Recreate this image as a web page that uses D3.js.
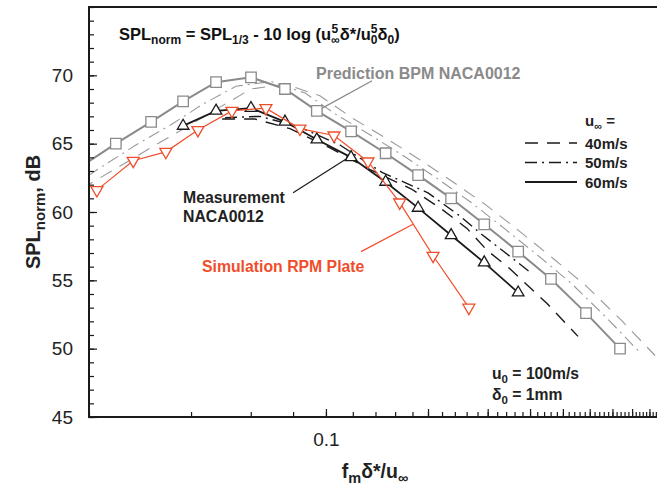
<!DOCTYPE html>
<html>
<head>
<meta charset="utf-8">
<script src="https://cdn.jsdelivr.net/npm/d3@7"></script>
<style>
  body { margin: 0; background: #fff; }
  text { font-family: "Liberation Sans", Arial, sans-serif; }
</style>
</head>
<body>
<svg width="657" height="490"></svg>
<script>
// Data (x = f_m d*/u, y = SPL_norm in dB)
var predX   = [0.019, 0.0240, 0.0305, 0.0379, 0.0474, 0.0601, 0.0757, 0.094, 0.1186, 0.150, 0.187, 0.234, 0.293, 0.369, 0.461, 0.585, 0.737];
var pred60  = [63.35, 65.0, 66.6, 68.1, 69.5, 69.85, 69.0, 67.4, 65.9, 64.3, 62.7, 61.0, 59.1, 57.1, 55.1, 52.6, 50.0];
var pred50X = [0.0173, 0.0218, 0.0275, 0.0350, 0.0434, 0.0543, 0.0689, 0.0868, 0.1077, 0.1359, 0.1719, 0.2143, 0.2682, 0.3358, 0.4229, 0.5283, 0.6704, 0.8446];
var pred50  = [61.7, 63.3, 64.9, 66.4, 67.9, 69.2, 69.55, 68.7, 67.1, 65.6, 64.0, 62.4, 60.7, 58.8, 56.8, 54.8, 52.3, 49.7];
var pred40X = [0.019, 0.0241, 0.0304, 0.0387, 0.0481, 0.0601, 0.0762, 0.0960, 0.1192, 0.1504, 0.190, 0.237, 0.297, 0.372, 0.468, 0.585, 0.742, 0.935];
var pred40  = [61.7, 63.2, 64.7, 66.2, 67.6, 69.0, 69.35, 68.5, 66.9, 65.4, 63.8, 62.2, 60.5, 58.6, 56.6, 54.6, 52.1, 49.5];

var measX   = [0.0379, 0.0474, 0.0601, 0.0757, 0.094, 0.1186, 0.150, 0.187, 0.234, 0.293, 0.369];
var meas60  = [66.3, 67.4, 67.6, 66.6, 65.3, 64.0, 62.2, 60.3, 58.3, 56.3, 54.1];
var meas50X = [0.0504, 0.0639, 0.0838, 0.110, 0.1463, 0.200, 0.2486, 0.2866, 0.3514, 0.400];
var meas50  = [66.9, 67.0, 66.2, 64.9, 62.9, 61.4, 59.7, 58.4, 56.7, 55.6];
var meas40X = [0.0494, 0.0618, 0.0783, 0.1028, 0.1349, 0.1782, 0.217, 0.2606, 0.2986, 0.3468, 0.449, 0.554];
var meas40  = [66.8, 66.8, 66.1, 64.7, 63.1, 61.7, 60.3, 58.8, 57.2, 55.9, 53.3, 50.9];

var simX    = [0.0211, 0.0270, 0.0337, 0.0419, 0.0528, 0.0665, 0.0838, 0.1056, 0.133, 0.165, 0.207, 0.264];
var sim     = [61.6, 63.75, 64.4, 66.0, 67.4, 67.6, 66.1, 65.6, 63.7, 60.7, 56.8, 53.0];

var yLabelTicks = [45, 50, 55, 60, 65, 70];
var xLabelTicks = [0.1, 1];
var legendLabels = ["40m/s", "50m/s", "60m/s"];

var svg = d3.select("svg"),
  width = +svg.attr("width"),
  height = +svg.attr("height");

var plotLeft = 89, plotTop = 7, plotBottom = 417;
var x = d3.scaleLog().domain([0.02, 1]).range([plotLeft, plotLeft + 339 * Math.log10(50)]);
var y = d3.scaleLinear().domain([45, 75]).range([plotBottom, plotTop]);

var gray = "#8a8a8a", dgray = "#9a9a9a", black = "#1a1a1a", red = "#f04e2b";
var dashed = "13,9", dashdot = "12,5,2,5";

svg.append("clipPath").attr("id", "plot")
  .append("rect").attr("x", plotLeft).attr("y", plotTop)
  .attr("width", width - plotLeft).attr("height", plotBottom - plotTop);

var g = svg.append("g").attr("clip-path", "url(#plot)");

function pts(xs, ys) {
  return xs.map((v, i) => [v, ys[i]]);
}
var line = d3.line().x(d => x(d[0])).y(d => y(d[1]));

function drawLine(data, color, w, dash) {
  g.append("path")
    .datum(data)
    .attr("d", line)
    .attr("fill", "none")
    .attr("stroke", color)
    .attr("stroke-width", w)
    .attr("stroke-dasharray", dash || null);
}

function drawMarkers(data, type, size, color, rot) {
  g.selectAll(null)
    .data(data.filter(d => d[0] >= 0.02))
    .enter()
    .append("path")
    .attr("d", d3.symbol().type(type).size(size))
    .attr("transform", d => `translate(${x(d[0])},${y(d[1])}) rotate(${rot || 0})`)
    .attr("fill", "#fff")
    .attr("stroke", color)
    .attr("stroke-width", 1.3);
}

// prediction BPM
drawLine(pts(pred40X, pred40), dgray, 1.1, dashed);
drawLine(pts(pred50X, pred50), dgray, 1.1, dashdot);
drawLine(pts(predX, pred60), gray, 2);
drawMarkers(pts(predX, pred60), d3.symbolSquare, 110, gray);

// measurement
drawLine(pts(meas40X, meas40), black, 1.4, dashed);
drawLine(pts(meas50X, meas50), black, 1.4, dashdot);
drawLine(pts(measX, meas60), black, 1.8);
drawMarkers(pts(measX, meas60), d3.symbolTriangle, 58, black);

// simulation
drawLine(pts(simX, sim), red, 1.2);
drawMarkers(pts(simX, sim), d3.symbolTriangle, 62, red, 180);

// Axes
var xMinor = d3.range(0.02, 1.001, 0.02).map(v => +v.toFixed(2));
var xMajor = d3.range(0.1, 1.001, 0.1).map(v => +v.toFixed(1));
var yMinor = d3.range(45, 76, 1);

var ax = svg.append("g").attr("class", "axes");
ax.append("g").attr("transform", `translate(0,${plotBottom})`)
  .call(d3.axisBottom(x).tickValues(xMinor).tickSize(-5).tickFormat(""));
ax.append("g").attr("transform", `translate(0,${plotBottom})`)
  .call(d3.axisBottom(x).tickValues(xMajor).tickSize(-8).tickFormat(""));
ax.append("g").attr("transform", `translate(0,${plotBottom})`)
  .call(d3.axisBottom(x).tickValues(xLabelTicks).tickSize(0).tickPadding(16).tickFormat(d3.format("")));
ax.append("g").attr("transform", `translate(${plotLeft},0)`)
  .call(d3.axisLeft(y).tickValues(yMinor).tickSize(-5).tickFormat(""));
ax.append("g").attr("transform", `translate(${plotLeft},0)`)
  .call(d3.axisLeft(y).tickValues(yLabelTicks).tickSize(-8).tickPadding(16));

ax.selectAll(".domain").remove();
ax.selectAll(".tick line").attr("stroke", black).attr("stroke-width", 1.2);
ax.selectAll(".tick text")
  .attr("font-family", '"Liberation Sans", Arial, sans-serif')
  .attr("font-size", 19).attr("fill", "#222");

// frame
svg.append("path")
  .attr("d", `M${width},${plotTop}H${plotLeft}V${plotBottom}H${width}`)
  .attr("fill", "none").attr("stroke", black).attr("stroke-width", 2);

// titles
var yt = svg.append("text")
  .attr("transform", "translate(40,212) rotate(-90)")
  .attr("text-anchor", "middle")
  .attr("font-size", 20).attr("font-weight", "bold").attr("fill", "#222");
yt.append("tspan").text("SPL");
yt.append("tspan").attr("font-size", 15).attr("dy", 5).text("norm");
yt.append("tspan").attr("dy", -5).text(", dB");

var xt = svg.append("text")
  .attr("x", 375).attr("y", 478)
  .attr("text-anchor", "middle")
  .attr("font-size", 19.5).attr("font-weight", "bold").attr("fill", "#222");
xt.append("tspan").text("f");
xt.append("tspan").attr("font-size", 14.5).attr("dy", 5).text("m");
xt.append("tspan").attr("dy", -5).text("δ*/u");
xt.append("tspan").attr("font-size", 14.5).attr("dy", 5).text("∞");

// formula
var f = svg.append("text").attr("x", 119).attr("y", 40)
  .attr("font-size", 16.5).attr("font-weight", "bold").attr("fill", "#111");
f.append("tspan").text("SPL");
f.append("tspan").attr("font-size", 12).attr("dy", 4).text("norm");
f.append("tspan").attr("dy", -4).text(" = SPL");
f.append("tspan").attr("font-size", 12).attr("dy", 4).text("1/3");
f.append("tspan").attr("dy", -4).text(" - 10 log (u");
f.append("tspan").attr("font-size", 12).attr("dy", 4).text("∞");
f.append("tspan").attr("font-size", 12).attr("dx", -8.2).attr("dy", -11).text("5");
f.append("tspan").attr("dx", 1.5).attr("dy", 7).text("δ*/u");
f.append("tspan").attr("font-size", 12).attr("dy", 4).text("0");
f.append("tspan").attr("font-size", 12).attr("dx", -6.7).attr("dy", -11).text("5");
f.append("tspan").attr("dy", 7).text("δ");
f.append("tspan").attr("font-size", 12).attr("dy", 4).text("0");
f.append("tspan").attr("dy", -4).text(")");

// annotations with leader lines
function leader(p0, p1, color) {
  svg.append("line")
    .attr("x1", x(p0[0])).attr("y1", y(p0[1]))
    .attr("x2", x(p1[0])).attr("y2", y(p1[1]))
    .attr("stroke", color).attr("stroke-width", 1.2);
}
leader([0.1368, 69.6], [0.0975, 67.6], gray);
leader([0.080, 61.4], [0.1150, 63.9], black);
leader([0.1269, 57.1], [0.1806, 59.1], red);

svg.append("text").attr("x", 316).attr("y", 79)
  .attr("font-size", 16).attr("font-weight", "bold").attr("fill", gray)
  .text("Prediction BPM NACA0012");
svg.append("text").attr("x", 183).attr("y", 203)
  .attr("font-size", 15.8).attr("font-weight", "bold").attr("fill", "#222")
  .text("Measurement");
svg.append("text").attr("x", 183).attr("y", 222)
  .attr("font-size", 15.8).attr("font-weight", "bold").attr("fill", "#222")
  .text("NACA0012");
svg.append("text").attr("x", 202).attr("y", 272)
  .attr("font-size", 15.8).attr("font-weight", "bold").attr("fill", red)
  .text("Simulation RPM Plate");

// legend
var lg = svg.append("g").attr("font-size", 15).attr("font-weight", "bold").attr("fill", "#222");
var u = lg.append("text").attr("x", 585).attr("y", 126);
u.append("tspan").text("u");
u.append("tspan").attr("font-size", 11).attr("dy", 4).text("∞");
u.append("tspan").attr("dy", -4).text(" =");
var dashes = [dashed, dashdot, null];
legendLabels.forEach((t, i) => {
  var ly = 143 + i * 19.5;
  lg.append("line").attr("x1", 525).attr("x2", 577).attr("y1", ly).attr("y2", ly)
    .attr("stroke", black).attr("stroke-width", i === 2 ? 1.8 : 1.4)
    .attr("stroke-dasharray", dashes[i]);
  lg.append("text").attr("x", 585).attr("y", ly + 5.5).text(t);
});

// reference values
var r1 = lg.append("text").attr("x", 492).attr("y", 379).attr("font-size", 15.7);
r1.append("tspan").text("u");
r1.append("tspan").attr("font-size", 11.5).attr("dy", 4).text("0");
r1.append("tspan").attr("dy", -4).text(" = 100m/s");
var r2 = lg.append("text").attr("x", 492).attr("y", 400).attr("font-size", 15.7);
r2.append("tspan").text("δ");
r2.append("tspan").attr("font-size", 11.5).attr("dy", 4).text("0");
r2.append("tspan").attr("dy", -4).text(" = 1mm");
</script>
</body>
</html>
